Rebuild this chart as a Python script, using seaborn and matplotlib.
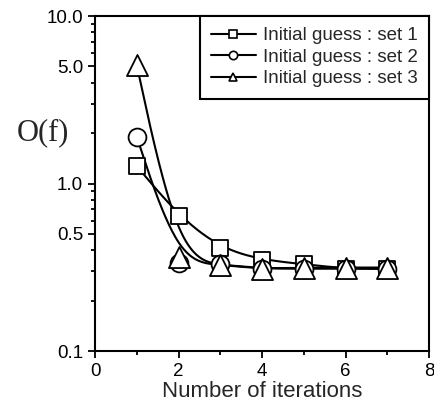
import matplotlib
matplotlib.use("Agg")
import matplotlib.pyplot as plt
import numpy as np
import pandas as pd
import seaborn as sns
from matplotlib.lines import Line2D
from matplotlib.ticker import FixedLocator, FormatStrFormatter, NullFormatter

# data
iterations = [1, 2, 3, 4, 5, 6, 7]
set1 = [1.27, 0.64, 0.41, 0.35, 0.33, 0.31, 0.31]
set2 = [1.90, 0.335, 0.33, 0.31, 0.31, 0.31, 0.31]
set3 = [5.1, 0.365, 0.325, 0.31, 0.315, 0.315, 0.315]
labels = ["Initial guess : set 1", "Initial guess : set 2", "Initial guess : set 3"]

sns.set_style("ticks")
plt.rcParams['font.family'] = ['Liberation Sans', 'DejaVu Sans']


def bspline(x, y, n=40):
    # clamped uniform cubic B-spline in (x, log y) space, like Origin's B-spline line
    px = np.r_[x[0], x[0], x, x[-1], x[-1]].astype(float)
    py = np.r_[[np.log10(y[0])] * 2, np.log10(y), [np.log10(y[-1])] * 2]
    t = np.linspace(0, 1, n)
    b0 = (1 - t) ** 3 / 6
    b1 = (3 * t ** 3 - 6 * t ** 2 + 4) / 6
    b2 = (-3 * t ** 3 + 3 * t ** 2 + 3 * t + 1) / 6
    b3 = t ** 3 / 6
    xs, ys = [], []
    for i in range(len(px) - 3):
        xs.append(b0 * px[i] + b1 * px[i + 1] + b2 * px[i + 2] + b3 * px[i + 3])
        ys.append(b0 * py[i] + b1 * py[i + 1] + b2 * py[i + 2] + b3 * py[i + 3])
    return np.concatenate(xs), 10 ** np.concatenate(ys)


fig = plt.figure(figsize=(4.34, 4.13), dpi=100)
ax = fig.add_axes([0.2189, 0.1501, 0.7696, 0.8111])

series = [(set1, 's', 120), (set2, 'o', 165), (set3, '^', 230)]
for (vals, mk, sz), lab in zip(series, labels):
    df = pd.DataFrame({"iter": iterations, "O": vals})
    cx, cy = bspline(np.array(iterations), np.array(vals))
    sns.lineplot(x=cx, y=cy, ax=ax, color='black', lw=1.5, sort=False, zorder=2)
    sns.scatterplot(data=df, x="iter", y="O", ax=ax, marker=mk, s=sz,
                    facecolor='white', edgecolor='black', linewidth=1.3, zorder=3)

ax.set_yscale('log')
ax.set_xlim(0, 8)
ax.set_ylim(0.1, 10)
ax.set_xticks([0, 2, 4, 6, 8])
ax.xaxis.set_minor_locator(FixedLocator([1, 3, 5, 7]))
ax.yaxis.set_major_locator(FixedLocator([0.1, 0.5, 1.0, 5.0, 10.0]))
ax.yaxis.set_major_formatter(FormatStrFormatter('%.1f'))
minors = [0.2, 0.3, 0.4, 0.6, 0.7, 0.8, 0.9, 2, 3, 4, 6, 7, 8, 9]
ax.yaxis.set_minor_locator(FixedLocator(minors))
ax.yaxis.set_minor_formatter(NullFormatter())

for s in ax.spines.values():
    s.set_visible(True)
    s.set_color('black')
    s.set_linewidth(1.5)
ax.tick_params(which='both', direction='out', colors='black', width=1.3,
               labelsize=13.5, pad=3.5)
ax.tick_params(which='major', length=5)
ax.tick_params(which='minor', length=3)
ax.grid(False)

ax.set_xlabel("Number of iterations", fontsize=16, labelpad=1)
ax.set_ylabel("O(f)", fontsize=22, rotation=0, family=['Liberation Serif', 'DejaVu Serif'],
              ha='center', va='center')
ax.yaxis.set_label_coords(-0.156, 0.651)

handles = [Line2D([], [], color='black', lw=1.5, marker=m, markersize=6,
                  markerfacecolor='white', markeredgecolor='black', markeredgewidth=1.2)
           for m in ['s', 'o', '^']]
leg = ax.legend(handles, labels, loc='upper right', borderaxespad=0, fontsize=13.5,
                frameon=True, fancybox=False, handlelength=2.4, handletextpad=0.37,
                labelspacing=0.23, borderpad=0.6)
leg.get_frame().set_edgecolor('black')
leg.get_frame().set_linewidth(1.5)
leg.get_frame().set_alpha(1)

fig.savefig("out.png", dpi=100)
